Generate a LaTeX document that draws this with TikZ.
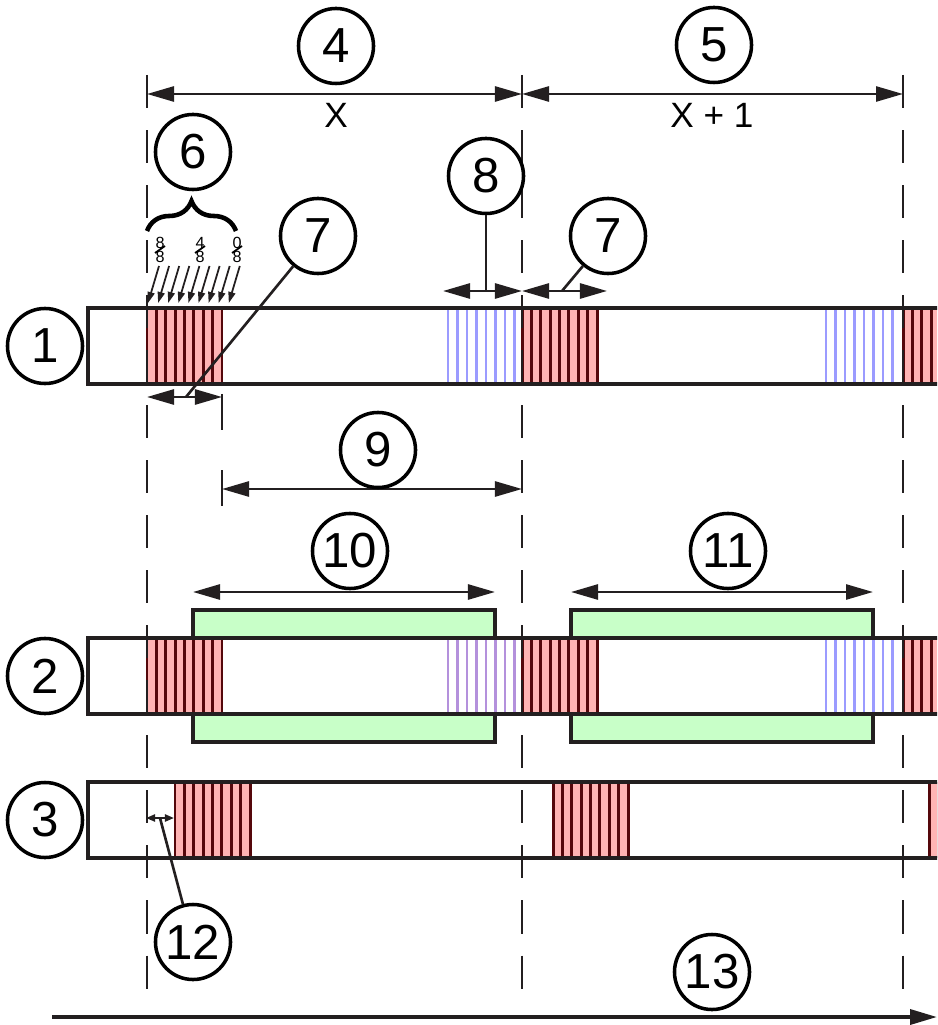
\documentclass[tikz,border=0pt]{standalone}
\usepackage{fontspec}
\setmainfont{Liberation Sans}
\usepackage{tikz}
\usetikzlibrary{arrows.meta, positioning, calc, decorations.pathreplacing}

\definecolor{slotred}{RGB}{255, 180, 180}
\definecolor{slotline}{RGB}{85, 8, 12}
\definecolor{gapblue}{RGB}{155, 155, 255}
\definecolor{gapviolet}{RGB}{180, 145, 220}
\definecolor{guardgreen}{RGB}{200, 255, 200}
\definecolor{inkgray}{RGB}{35, 31, 32}

\tikzset{
  callout/.style={circle, draw=black, line width=1pt, minimum size=7.5mm, inner sep=0pt, fill=white, font=\fontsize{14}{14}\selectfont},
  dimline/.style={draw=inkgray, line width=0.75pt, {Triangle[length=2.7mm,width=1.5mm]}-{Triangle[length=2.7mm,width=1.5mm]}},
  tinydim/.style={draw=inkgray, line width=0.6pt, {Triangle[length=0.9mm,width=0.7mm]}-{Triangle[length=0.9mm,width=0.7mm]}},
  guide/.style={draw=inkgray, line width=0.7pt, dash pattern=on 3.3mm off 2.2mm},
  frame/.style={draw=inkgray, line width=0.9pt},
  leader/.style={draw=inkgray, line width=0.75pt},
  pointer/.style={draw=inkgray, line width=0.5pt, -{Triangle[length=1.1mm,width=0.7mm]}},
  fracnum/.style={inner sep=0pt, font=\fontsize{4.6}{5}\selectfont},
  dimtext/.style={inner sep=0pt, font=\fontsize{10}{10}\selectfont},
}

\begin{document}
\begin{tikzpicture}[x=0.01cm, y=-0.01cm]
  \useasboundingbox (0,0) rectangle (937,1025);
  \clip (0,0) rectangle (937,1025);

  % Guard areas behind row 2
  \foreach \gx in {193, 571} {
    \fill[guardgreen] (\gx, 610) rectangle ++(302, 132);
    \draw[frame] (\gx, 610) rectangle ++(302, 132);
  }

  % Rows (white bars)
  \foreach \ry in {308, 638, 782} {
    \fill[white] (88, \ry) rectangle (950, \ry+76);
  }

  % Slot blocks: x / row top
  \foreach \sx/\sy in {147/308, 522/308, 903/308, 147/638, 522/638, 903/638, 175/782, 553/782, 929/782} {
    \fill[slotred] (\sx, \sy) rectangle ++(75, 76);
    \foreach \i in {0,...,8} {
      \draw[slotline, line width=0.85pt] ({\sx+\i*9.375}, \sy) -- ++(0, 76);
    }
  }

  % Idle gaps before each slot
  \foreach \bx/\by/\bc in {448/308/gapblue, 826/308/gapblue, 448/638/gapviolet, 826/638/gapblue} {
    \foreach \i in {0,...,7} {
      \draw[\bc, line width=0.65pt] ({\bx+\i*9.5}, \by) -- ++(0, 76);
    }
  }

  % Row outlines
  \foreach \ry in {308, 638, 782} {
    \draw[frame] (950, \ry) -- (88, \ry) -- (88, \ry+76) -- (950, \ry+76);
  }

  % Dashed guides
  \foreach \vx in {147, 522, 903} {
    \draw[guide] (\vx, 75) -- (\vx, 990);
  }
  \draw[guide, dash pattern=on 3.6mm off 4mm] (222, 394) -- (222, 506);

  % Top frame dimensions
  \coordinate (f0) at (147, 94);
  \coordinate (f1) at (522, 94);
  \coordinate (f2) at (903, 94);
  \draw[dimline] (f0) -- (f1);
  \draw[dimline] (f1) -- (f2);
  \node[dimtext] (lx) at (336, 115) {X};
  \node[dimtext] (lx1) at (712, 115) {X + 1};
  \node[callout] (n4) at (336, 46) {4};
  \node[callout] (n5) at (714, 45) {5};

  % Row labels
  \node[callout] (n1) at (45, 346) {1};
  \node[callout] (n2) at (45, 676) {2};
  \node[callout] (n3) at (45, 820) {3};

  % Sub-slot fractions and pointers
  \node[callout] (n6) at (193, 152) {6};
  \draw[line width=1.3pt, decorate, decoration={brace, amplitude=3mm}] (147, 231) -- (236, 231);
  \foreach \fx/\fn in {160/8, 200/4, 237/0} {
    \node[fracnum] (top\fn) at (\fx, 243) {\fn};
    \node[fracnum] (bot\fn) at (\fx, 257) {8};
    \draw[line width=0.5pt] (\fx-5, 253) -- (\fx+5, 246);
  }
  \foreach \i in {0,...,8} {
    \draw[pointer] ({159+\i*10.1}, 266) -- ({148+\i*10.1}, 303);
  }

  % Slot width (7)
  \coordinate (s0) at (147, 397);
  \coordinate (s1) at (222, 397);
  \coordinate (m7a) at (186, 397);
  \draw[dimline] (s0) -- (s1);
  \node[callout] (n7a) at (318, 236) {7};
  \draw[leader] (n7a) -- (m7a);

  \coordinate (s2) at (522, 291);
  \coordinate (s3) at (607, 291);
  \coordinate (m7b) at (562, 291);
  \draw[dimline] (s2) -- (s3);
  \node[callout] (n7b) at (608, 236) {7};
  \draw[leader] (n7b) -- (m7b);

  % Gap width (8)
  \coordinate (g0) at (443, 291);
  \coordinate (g1) at (522, 291);
  \coordinate (m8) at (486, 291);
  \draw[dimline] (g0) -- (g1);
  \node[callout] (n8) at (486, 176) {8};
  \draw[leader] (n8) -- (m8);

  % Span (9)
  \coordinate (p0) at (222, 489);
  \coordinate (p1) at (522, 489);
  \draw[dimline] (p0) -- (p1);
  \node[callout] (n9) at (378, 450) {9};

  % Guard spans (10, 11)
  \coordinate (q0) at (193, 592);
  \coordinate (q1) at (495, 592);
  \coordinate (q2) at (571, 592);
  \coordinate (q3) at (873, 592);
  \draw[dimline] (q0) -- (q1);
  \draw[dimline] (q2) -- (q3);
  \node[callout] (n10) at (350, 551) {10};
  \node[callout] (n11) at (728, 551) {11};

  % Offset (12)
  \coordinate (o0) at (146, 818);
  \coordinate (o1) at (174, 818);
  \coordinate (m12) at (160, 818);
  \draw[tinydim] (o0) -- (o1);
  \node[callout] (n12) at (193, 942) {12};
  \draw[leader] (n12) -- (m12);

  % Time axis (13)
  \coordinate (t0) at (52, 1017);
  \coordinate (t1) at (937, 1017);
  \draw[draw=inkgray, line width=1pt, -{Triangle[length=2.7mm,width=1.5mm]}] (t0) -- (t1);
  \node[callout] (n13) at (712, 972) {13};
\end{tikzpicture}
\end{document}
